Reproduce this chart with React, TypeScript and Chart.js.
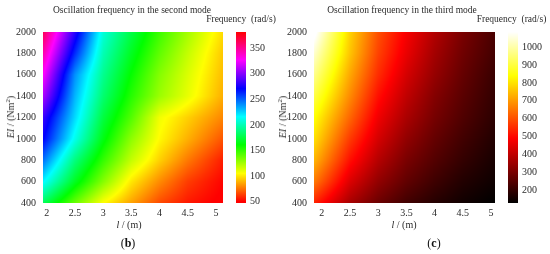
import React, { useEffect, useRef } from "react";
import { Chart, registerables } from "chart.js";

Chart.register(...registerables);

const FONT = "'Liberation Serif', serif";
const lengths = [2, 2.5, 3, 3.5, 4, 4.5, 5];
const stiffness = [400, 600, 800, 1000, 1200, 1400, 1600, 1800, 2000];

const secondMode = [
  [175, 138, 105, 85, 66, 55, 49],
  [212, 168, 132, 100, 80, 63, 53],
  [240, 188, 150, 118, 95, 76, 60],
  [265, 212, 165, 130, 104, 88, 72],
  [277, 224, 175, 143, 108, 95, 82],
  [300, 232, 185, 153, 127, 110, 92],
  [318, 240, 192, 160, 132, 113, 95],
  [336, 262, 200, 168, 140, 118, 98],
  [354, 280, 208, 176, 148, 125, 103],
];
const thirdMode = [
  [500, 365, 280, 220, 180, 150, 130],
  [610, 440, 335, 265, 215, 175, 150],
  [690, 510, 385, 300, 245, 200, 165],
  [750, 570, 430, 335, 270, 220, 180],
  [800, 630, 470, 370, 295, 240, 195],
  [860, 680, 510, 400, 315, 255, 205],
  [920, 720, 550, 430, 340, 270, 215],
  [980, 760, 580, 460, 360, 285, 230],
  [1040, 780, 600, 480, 380, 300, 240],
];

const secondTicks = [50, 100, 150, 200, 250, 300, 350];
const thirdTicks = [200, 300, 400, 500, 600, 700, 800, 900, 1000];
const rainbowStops: [number, number[]][] = [
  [50, [255, 0, 0]],
  [105, [255, 255, 0]],
  [161, [0, 255, 0]],
  [216, [0, 255, 255]],
  [271, [0, 0, 255]],
  [327, [255, 0, 255]],
  [382, [255, 0, 0]],
];
const hotStops: [number, number[]][] = [
  [127, [0, 0, 0]],
  [490, [255, 0, 0]],
  [840, [255, 255, 0]],
  [1086, [255, 255, 255]],
];

function colorAt(stops: [number, number[]][], v: number) {
  if (v <= stops[0][0]) return stops[0][1];
  for (let i = 1; i < stops.length; i++) {
    if (v <= stops[i][0]) {
      const [a, ca] = stops[i - 1];
      const [b, cb] = stops[i];
      const t = (v - a) / (b - a);
      return ca.map((c, k) => c + (cb[k] - c) * t);
    }
  }
  return stops[stops.length - 1][1];
}

function segment(axis: number[], v: number) {
  let i = 0;
  while (i < axis.length - 2 && v > axis[i + 1]) i++;
  return [i, (v - axis[i]) / (axis[i + 1] - axis[i])];
}

function sample(grid: number[][], l: number, ei: number) {
  const [i, u] = segment(lengths, l);
  const [j, w] = segment(stiffness, ei);
  const low = grid[j][i] + (grid[j][i + 1] - grid[j][i]) * u;
  const high = grid[j + 1][i] + (grid[j + 1][i + 1] - grid[j + 1][i]) * u;
  return low + (high - low) * w;
}

const heatPlugin = {
  id: "heat",
  beforeDatasetsDraw(chart: any, _a: any, opts: any) {
    const { ctx, chartArea: ca, scales } = chart;
    for (let px = Math.floor(ca.left); px < ca.right; px++) {
      for (let py = Math.floor(ca.top); py < ca.bottom; py++) {
        const v = sample(opts.grid, scales.x.getValueForPixel(px + 0.5), scales.y.getValueForPixel(py + 0.5));
        const c = colorAt(opts.stops, v);
        ctx.fillStyle = `rgb(${c[0]},${c[1]},${c[2]})`;
        ctx.fillRect(px, py, 1, 1);
      }
    }
  },
};

const barPlugin = {
  id: "bar",
  beforeDatasetsDraw(chart: any, _a: any, opts: any) {
    const { ctx, chartArea: ca, scales } = chart;
    for (let py = Math.floor(ca.top); py < ca.bottom; py++) {
      const c = colorAt(opts.stops, scales.y.getValueForPixel(py + 0.5));
      ctx.fillStyle = `rgb(${c[0]},${c[1]},${c[2]})`;
      ctx.fillRect(ca.left, py, ca.right - ca.left, 1);
    }
  },
};

const tickFont = { family: FONT, size: 10 };
const tickColor = "#2a2a2a";
const hiddenGrid = { display: false, drawTicks: false };

function spacer(position: string, width: number) {
  return {
    type: "linear",
    position,
    grid: hiddenGrid,
    border: { display: false },
    ticks: { display: false },
    afterFit: (s: any) => { s.width = width; },
  };
}

function Heat({ left, width, padRight, xMin, xMax, title, grid, stops }: any) {
  const ref = useRef<HTMLCanvasElement>(null);
  useEffect(() => {
    const points = grid.flatMap((row: number[], j: number) =>
      row.map((v, i) => ({ x: lengths[i], y: stiffness[j], v }))
    );
    const chart = new Chart(ref.current!, {
      type: "scatter",
      data: { datasets: [{ data: points, pointRadius: 0 }] },
      plugins: [heatPlugin],
      options: {
        animation: false,
        responsive: false,
        layout: { padding: 0 },
        plugins: {
          legend: { display: false },
          tooltip: { enabled: false },
          title: {
            display: true,
            text: title,
            color: tickColor,
            font: { family: FONT, size: 9.5, weight: "normal" },
            padding: { top: 5, bottom: 15.6 },
          },
          heat: { grid, stops },
        },
        scales: {
          x: {
            type: "linear",
            min: xMin,
            max: xMax,
            grid: hiddenGrid,
            border: { display: false },
            afterFit: (s: any) => { s.height = 17; },
            afterBuildTicks: (s: any) => { s.ticks = lengths.map((value) => ({ value })); },
            ticks: { font: tickFont, color: tickColor, padding: 4, maxRotation: 0, autoSkip: false, callback: (v: any) => String(v) },
          },
          y: {
            type: "linear",
            min: 400,
            max: 2000,
            grid: hiddenGrid,
            border: { display: false },
            afterFit: (s: any) => { s.width = 43; },
            afterBuildTicks: (s: any) => { s.ticks = stiffness.map((value) => ({ value })); },
            ticks: { font: tickFont, color: tickColor, padding: 7, autoSkip: false, callback: (v: any) => String(v) },
          },
          pad: spacer("right", padRight),
        },
      } as any,
    } as any);
    return () => chart.destroy();
  }, []);
  return <canvas ref={ref} width={width} height={220} style={{ position: "absolute", left, top: 0, width, height: 220 }} />;
}

function Bar({ left, width, min, max, ticks, stops, barLeft, barWidth }: any) {
  const ref = useRef<HTMLCanvasElement>(null);
  useEffect(() => {
    const chart = new Chart(ref.current!, {
      type: "scatter",
      data: { datasets: [{ data: ticks.map((t: number) => ({ x: 0, y: t })), pointRadius: 0 }] },
      plugins: [barPlugin],
      options: {
        animation: false,
        responsive: false,
        layout: { padding: 0 },
        plugins: {
          legend: { display: false },
          tooltip: { enabled: false },
          title: {
            display: true,
            text: "Frequency  (rad/s)",
            color: tickColor,
            font: { family: FONT, size: 9.5, weight: "normal" },
            padding: { top: 14, bottom: 6.6 },
          },
          bar: { stops },
        },
        scales: {
          x: {
            type: "linear",
            min: 0,
            max: 1,
            grid: hiddenGrid,
            border: { display: false },
            ticks: { display: false },
            afterFit: (s: any) => { s.height = 17; },
          },
          y: {
            position: "right",
            type: "linear",
            min,
            max,
            grid: hiddenGrid,
            border: { display: false },
            afterFit: (s: any) => { s.width = width - barLeft - barWidth; },
            afterBuildTicks: (s: any) => { s.ticks = ticks.map((value: number) => ({ value })); },
            ticks: { font: tickFont, color: tickColor, padding: 4, autoSkip: false, callback: (v: any) => String(v) },
          },
          pad: spacer("left", barLeft),
        },
      } as any,
    } as any);
    return () => chart.destroy();
  }, []);
  return <canvas ref={ref} width={width} height={220} style={{ position: "absolute", left, top: 0, width, height: 220 }} />;
}

const label: React.CSSProperties = {
  position: "absolute",
  fontFamily: FONT,
  fontSize: 10,
  color: tickColor,
  whiteSpace: "nowrap",
  transform: "translate(-50%,-50%)",
  lineHeight: 1,
};

function Axes({ plotCenter, yTitleX, caption, captionX }: any) {
  return (
    <>
      <div style={{ ...label, left: plotCenter - 3, top: 224.5 }}>
        <i>l</i> / (m)
      </div>
      <div style={{ ...label, left: yTitleX, top: 117, transform: "translate(-50%,-50%) rotate(-90deg)" }}>
        <i>EI</i> / (Nm<sup style={{ fontSize: 7, lineHeight: 0 }}>2</sup>)
      </div>
      <div style={{ ...label, left: captionX, top: 243, fontSize: 12, color: "#111" }}>
        ({caption})
      </div>
    </>
  );
}

export default function App() {
  return (
    <div style={{ position: "absolute", left: 0, top: 0, width: 550, height: 254, overflow: "hidden", background: "#fff", filter: "blur(0.35px)" }}>
      <Heat left={0} width={264} padRight={41} xMin={1.934} xMax={5.124} title="Oscillation frequency in the second mode" grid={secondMode} stops={rainbowStops} />
      <Bar left={195} width={92} min={47} max={382} ticks={secondTicks} stops={rainbowStops} barLeft={41} barWidth={10} />
      <Axes plotCenter={132} yTitleX={11} caption={<b>b</b>} captionX={128} />
      <Heat left={271} width={262} padRight={38} xMin={1.863} xMax={5.07} title="Oscillation frequency in the third mode" grid={thirdMode} stops={hotStops} />
      <Bar left={473} width={77} min={127} max={1086} ticks={thirdTicks} stops={hotStops} barLeft={35} barWidth={10} />
      <Axes plotCenter={407} yTitleX={283} caption={<b>c</b>} captionX={434} />
    </div>
  );
}
